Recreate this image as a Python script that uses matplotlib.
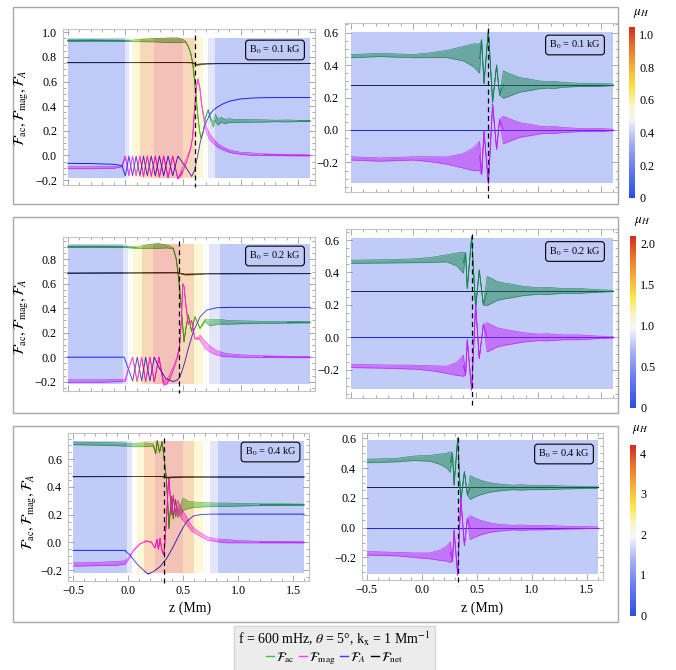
import numpy as np
import matplotlib
matplotlib.use("Agg")
import matplotlib.pyplot as plt
from matplotlib.colors import LinearSegmentedColormap, Normalize
from matplotlib.cm import ScalarMappable
from matplotlib.lines import Line2D
from matplotlib.patches import Rectangle
from matplotlib.ticker import MultipleLocator, FuncFormatter

plt.rcParams["font.family"] = ["Liberation Serif", "DejaVu Serif"]
plt.rcParams["mathtext.fontset"] = "stix"

W, H = 676, 670

# ---------------- mu_H stripes (z edges in Mm, one mu_H per stripe) ----------------
stripe_z1 = [-0.5, 0.0, 0.03, 0.07, 0.13, 0.25, 0.5, 0.6, 0.675, 0.72, 0.775, 1.6]
stripe_z2 = [-0.5, -0.018, 0.025, 0.063, 0.14, 0.24, 0.473, 0.597, 0.675, 0.727, 0.82, 1.6]
stripe_z3 = [-0.5, -0.014, 0.031, 0.077, 0.143, 0.243, 0.495, 0.598, 0.683, 0.744, 0.82, 1.6]
mu1 = [0.07, 0.35, 0.49, 0.63, 0.88, 1.0, 0.88, 0.63, 0.49, 0.35, 0.07]
mu2 = [0.15, 0.7, 0.98, 1.25, 1.75, 2.0, 1.75, 1.25, 0.98, 0.7, 0.15]
mu3 = [0.3, 1.4, 1.97, 2.5, 3.5, 4.0, 3.5, 2.5, 1.97, 1.4, 0.3]
mu_right = [0.07, 0.15, 0.3]
mu_max = [1.047, 2.09, 4.2]
b0_labels = ["0.1", "0.2", "0.4"]
z_cut = [0.6, 0.467, 0.33]

# ---------------- B0 = 0.1 kG, left ----------------
p1_ac_z = [-0.5, -0.3, -0.1, 0.05, 0.15, 0.25, 0.35, 0.45, 0.5, 0.52, 0.545, 0.566, 0.583, 0.597, 0.612,
           0.626, 0.641, 0.655, 0.675, 0.695, 0.718, 0.74, 0.76, 0.78, 0.8, 0.83, 0.86, 0.9, 0.95, 1.0,
           1.1, 1.2, 1.3, 1.4, 1.5, 1.6]
p1_ac_y = [0.932, 0.933, 0.932, 0.930, 0.933, 0.936, 0.935, 0.935, 0.93, 0.925, 0.885, 0.83, 0.75, 0.63, 0.48,
           0.34, 0.21, 0.14, 0.19, 0.31, 0.37, 0.29, 0.25, 0.31, 0.27, 0.29, 0.275, 0.283, 0.28, 0.281,
           0.28, 0.28, 0.28, 0.28, 0.28, 0.28]
p1_ac_w = [0.006, 0.006, 0.005, 0.006, 0.01, 0.014, 0.018, 0.02, 0.012, 0.005, 0.0, 0.0, 0.0, 0.0, 0.0,
           0.0, 0.0, 0.0, 0.0, 0.0, 0.0, 0.01, 0.02, 0.025, 0.025, 0.02, 0.018, 0.015, 0.012, 0.012,
           0.01, 0.009, 0.006, 0.008, 0.005, 0.005]

p1_mag_z = [-0.5, -0.3, -0.1, -0.03,
            0.0, 0.031, 0.062, 0.093, 0.125, 0.157, 0.19, 0.224, 0.259, 0.295, 0.332, 0.37, 0.41, 0.455,
            0.49, 0.52, 0.545, 0.566, 0.583, 0.6, 0.615, 0.63, 0.645, 0.66, 0.68, 0.7, 0.73, 0.76, 0.8,
            0.85, 0.9, 0.95, 1.0, 1.1, 1.2, 1.4, 1.6]
p1_mag_y = [-0.10, -0.10, -0.097, -0.088,
            -0.005, -0.165, -0.005, -0.165, -0.005, -0.17, -0.005, -0.17, -0.005, -0.175, -0.005, -0.18,
            -0.005, -0.19,
            -0.13, -0.06, 0.0, 0.06, 0.15, 0.38, 0.55, 0.62, 0.55, 0.42, 0.3, 0.21, 0.15, 0.12, 0.08,
            0.055, 0.035, 0.025, 0.018, 0.01, 0.006, 0.003, 0.0]
p1_mag_w = [0.008, 0.008, 0.008, 0.004,
            0.0, 0.0, 0.0, 0.0, 0.0, 0.0, 0.0, 0.0, 0.0, 0.0, 0.0, 0.0, 0.0, 0.0,
            0.02, 0.02, 0.01, 0.0, 0.0, 0.0, 0.0, 0.0, 0.0, 0.0, 0.02, 0.025, 0.025, 0.02, 0.015,
            0.012, 0.01, 0.01, 0.008, 0.01, 0.006, 0.006, 0.004]

p1_alf_z = [-0.5, -0.3, -0.1, -0.03,
            0.0, 0.031, 0.062, 0.093, 0.125, 0.157, 0.19, 0.224, 0.259, 0.295, 0.332, 0.37, 0.41, 0.455,
            0.52, 0.574, 0.6, 0.618, 0.635, 0.647, 0.69, 0.73, 0.762, 0.8, 0.849, 0.9, 0.993, 1.1, 1.2,
            1.4, 1.6]
p1_alf_y = [-0.064, -0.066, -0.072, -0.082,
            -0.165, -0.005, -0.165, -0.005, -0.165, -0.005, -0.165, -0.005, -0.165, -0.005, -0.165, -0.005,
            -0.165, -0.005,
            -0.09, -0.17, -0.12, -0.04, 0.04, 0.1, 0.25, 0.33, 0.368, 0.395, 0.42, 0.44, 0.458, 0.466, 0.469,
            0.47, 0.47]

p1_net_z = [-0.5, 0.5, 0.58, 0.6, 0.62, 0.65, 0.7, 0.8, 1.6]
p1_net_y = [0.753, 0.754, 0.752, 0.745, 0.736, 0.74, 0.745, 0.746, 0.746]
p1_net_w = [0.0, 0.0, 0.0, 0.003, 0.004, 0.004, 0.003, 0.001, 0.0]

# ---------------- B0 = 0.2 kG, left ----------------
p2_ac_z = [-0.5, -0.2, 0.0, 0.1, 0.2, 0.28, 0.36, 0.4, 0.415, 0.44, 0.458, 0.473, 0.487, 0.496, 0.508,
           0.525, 0.545, 0.574, 0.603, 0.647, 0.69, 0.73, 0.8, 0.9, 1.0, 1.1, 1.2, 1.3, 1.4, 1.5, 1.6]
p2_ac_y = [0.903, 0.903, 0.902, 0.895, 0.905, 0.91, 0.905, 0.895, 0.889, 0.807, 0.671, 0.535, 0.372, 0.263,
           0.125, 0.24, 0.345, 0.21, 0.33, 0.236, 0.30, 0.28, 0.29, 0.285, 0.285, 0.285, 0.285, 0.285,
           0.285, 0.285, 0.285]
p2_ac_w = [0.006, 0.006, 0.006, 0.006, 0.015, 0.02, 0.012, 0.008, 0.003, 0.0, 0.0, 0.0, 0.0, 0.0, 0.0,
           0.0, 0.0, 0.0, 0.0, 0.0, 0.01, 0.025, 0.02, 0.015, 0.012, 0.01, 0.008, 0.008, 0.006, 0.005, 0.004]

p2_mag_z = [-0.5, -0.2, 0.0, 0.025, 0.063, 0.102, 0.141, 0.176, 0.213, 0.25, 0.291, 0.33, 0.36, 0.39,
            0.42, 0.45, 0.47, 0.485, 0.497, 0.508, 0.525, 0.545, 0.574, 0.603, 0.647, 0.69, 0.73, 0.78,
            0.85, 0.9, 1.0, 1.1, 1.2, 1.3, 1.4, 1.5, 1.6]
p2_mag_y = [-0.195, -0.195, -0.19, -0.1, 0.0, -0.2, 0.0, -0.2, 0.0, -0.2, 0.0, -0.21, -0.2, -0.15,
            -0.08, 0.0, 0.09, 0.3, 0.6, 0.58, 0.42, 0.27, 0.3, 0.15, 0.16, 0.1, 0.07, 0.04,
            0.02, 0.015, 0.01, 0.006, 0.004, 0.003, 0.002, 0.001, 0.0]
p2_mag_w = [0.01, 0.01, 0.008, 0.0, 0.0, 0.0, 0.0, 0.0, 0.0, 0.0, 0.0, 0.02, 0.02, 0.018,
            0.012, 0.008, 0.0, 0.0, 0.0, 0.0, 0.0, 0.0, 0.0, 0.0, 0.02, 0.03, 0.025, 0.02,
            0.015, 0.012, 0.01, 0.008, 0.007, 0.006, 0.006, 0.005, 0.004]

p2_alf_z = [-0.5, -0.01, 0.063, 0.103, 0.141, 0.176, 0.213, 0.25, 0.3, 0.35, 0.415, 0.45, 0.473, 0.495,
            0.516, 0.545, 0.589, 0.647, 0.704, 0.79, 0.9, 1.6]
p2_alf_y = [0.0, 0.0, -0.195, 0.0, -0.195, 0.0, -0.195, 0.0, -0.1, -0.175, -0.2, -0.185, -0.16, -0.1,
            -0.036, 0.07, 0.21, 0.33, 0.385, 0.404, 0.407, 0.407]

p2_net_z = [-0.5, 0.45, 0.48, 0.52, 0.6, 0.7, 1.6]
p2_net_y = [0.687, 0.69, 0.683, 0.676, 0.678, 0.683, 0.683]
p2_net_w = [0.0, 0.0, 0.002, 0.004, 0.004, 0.002, 0.0]

# ---------------- B0 = 0.4 kG, left ----------------
p3_ac_z = [-0.5, -0.3, -0.1, 0.05, 0.15, 0.228, 0.25, 0.264, 0.285, 0.309, 0.328, 0.346, 0.36, 0.37, 0.38,
           0.395, 0.41, 0.43, 0.45, 0.5, 0.55, 0.6, 0.7, 0.8, 0.9, 1.0, 1.1, 1.2, 1.4, 1.6]
p3_ac_y = [0.715, 0.712, 0.708, 0.703, 0.705, 0.703, 0.64, 0.735, 0.65, 0.727, 0.6, 0.474, 0.283, 0.10, 0.2,
           0.33, 0.17, 0.31, 0.2, 0.275, 0.27, 0.272, 0.272, 0.272, 0.272, 0.272, 0.272, 0.272, 0.272, 0.272]
p3_ac_w = [0.01, 0.01, 0.01, 0.012, 0.014, 0.01, 0.0, 0.0, 0.0, 0.0, 0.0, 0.0, 0.0, 0.0, 0.0,
           0.0, 0.0, 0.0, 0.02, 0.045, 0.025, 0.02, 0.015, 0.012, 0.012, 0.01, 0.008, 0.006, 0.006, 0.004]

p3_mag_z = [-0.5, -0.3, -0.1, -0.03, 0.0, 0.046, 0.107, 0.167, 0.213, 0.243, 0.262, 0.275, 0.29, 0.305,
            0.322, 0.335, 0.35, 0.362, 0.37, 0.38, 0.395, 0.41, 0.43, 0.45, 0.48, 0.52, 0.577, 0.63,
            0.713, 0.8, 0.9, 1.0, 1.2, 1.4, 1.6]
p3_mag_y = [-0.16, -0.157, -0.152, -0.145, -0.12, -0.06, -0.01, 0.01, 0.0, -0.04, 0.02, -0.05, 0.03, -0.05,
            -0.09, 0.0, 0.2, 0.38, 0.47, 0.36, 0.2, 0.34, 0.2, 0.27, 0.21, 0.17, 0.1, 0.07,
            0.03, 0.015, 0.008, 0.005, 0.002, 0.001, 0.0]
p3_mag_w = [0.012, 0.012, 0.014, 0.012, 0.008, 0.004, 0.002, 0.002, 0.003, 0.0, 0.0, 0.0, 0.0, 0.0,
            0.0, 0.0, 0.0, 0.0, 0.0, 0.0, 0.0, 0.0, 0.02, 0.035, 0.035, 0.03, 0.02, 0.015,
            0.012, 0.01, 0.012, 0.008, 0.006, 0.005, 0.004]

p3_alf_z = [-0.5, -0.03, 0.016, 0.076, 0.137, 0.18, 0.228, 0.289, 0.35, 0.41, 0.47, 0.531, 0.592, 0.653,
            0.75, 1.6]
p3_alf_y = [-0.058, -0.058, -0.092, -0.152, -0.2, -0.229, -0.212, -0.176, -0.116, -0.031, 0.065, 0.15,
            0.19, 0.2, 0.204, 0.204]

p3_net_z = [-0.5, 0.3, 0.33, 0.36, 0.4, 0.5, 1.6]
p3_net_y = [0.474, 0.476, 0.472, 0.468, 0.47, 0.472, 0.472]
p3_net_w = [0.0, 0.0, 0.002, 0.003, 0.003, 0.001, 0.0]

# ---------------- right column (mu_H small everywhere) ----------------
p1r_z = [-0.5, -0.268, 0.0, 0.132, 0.266, 0.4, 0.48, 0.53, 0.546, 0.565, 0.6, 0.634, 0.666, 0.69, 0.72,
         0.75, 0.8, 0.85, 0.933, 1.0, 1.07, 1.13, 1.2, 1.33, 1.47, 1.6]
p1r_ac = [0.455, 0.462, 0.455, 0.46, 0.468, 0.47, 0.46, 0.44, 0.555, 0.285, 0.615, 0.17, 0.40, 0.215, 0.28,
          0.278, 0.278, 0.278, 0.278, 0.278, 0.278, 0.278, 0.278, 0.278, 0.278, 0.278]
p1r_mag = [-0.175, -0.182, -0.175, -0.18, -0.188, -0.19, -0.18, -0.16, -0.275, -0.005, -0.333, 0.16, -0.12,
           0.065, 0.0, 0.0, 0.0, 0.0, 0.0, 0.0, 0.0, 0.0, 0.0, 0.0, 0.0, 0.0]
p1r_w = [0.01, 0.01, 0.01, 0.015, 0.022, 0.045, 0.07, 0.09, 0.0, 0.0, 0.0, 0.0, 0.0, 0.0, 0.085,
         0.075, 0.06, 0.045, 0.035, 0.025, 0.02, 0.022, 0.015, 0.01, 0.01, 0.005]
p1r_net = 0.277

p2r_z = [-0.5, -0.25, 0.0, 0.132, 0.266, 0.346, 0.4, 0.418, 0.431, 0.466, 0.498, 0.527, 0.56, 0.59, 0.63,
         0.666, 0.72, 0.8, 0.87, 0.933, 1.0, 1.07, 1.2, 1.33, 1.47, 1.6]
p2r_ac = [0.466, 0.468, 0.472, 0.477, 0.487, 0.48, 0.46, 0.52, 0.30, 0.62, 0.18, 0.415, 0.2, 0.286, 0.286,
          0.286, 0.286, 0.286, 0.286, 0.286, 0.286, 0.286, 0.286, 0.286, 0.286, 0.286]
p2r_mag = [-0.177, -0.18, -0.184, -0.19, -0.2, -0.195, -0.175, -0.23, -0.015, -0.325, 0.2, -0.13, 0.08,
           0.0, 0.0, 0.0, 0.0, 0.0, 0.0, 0.0, 0.0, 0.0, 0.0, 0.0, 0.0, 0.0]
p2r_w = [0.01, 0.01, 0.012, 0.015, 0.022, 0.04, 0.065, 0.0, 0.0, 0.0, 0.0, 0.0, 0.0, 0.09, 0.075,
         0.06, 0.05, 0.04, 0.03, 0.025, 0.02, 0.022, 0.015, 0.015, 0.008, 0.004]
p2r_net = 0.286

p3r_z = [-0.5, -0.227, -0.076, 0.076, 0.167, 0.227, 0.26, 0.28, 0.294, 0.327, 0.355, 0.388, 0.415, 0.44,
         0.48, 0.53, 0.6, 0.68, 0.75, 0.83, 0.9, 0.985, 1.1, 1.29, 1.45, 1.6]
p3r_ac = [0.448, 0.454, 0.466, 0.466, 0.46, 0.45, 0.44, 0.5, 0.286, 0.60, 0.174, 0.376, 0.219, 0.27,
          0.27, 0.27, 0.27, 0.27, 0.27, 0.27, 0.27, 0.27, 0.27, 0.27, 0.27, 0.27]
p3r_mag = [-0.173, -0.178, -0.185, -0.19, -0.185, -0.175, -0.165, -0.225, -0.015, -0.32, 0.2, -0.12, 0.06,
           0.0, 0.0, 0.0, 0.0, 0.0, 0.0, 0.0, 0.0, 0.0, 0.0, 0.0, 0.0, 0.0]
p3r_w = [0.012, 0.012, 0.015, 0.02, 0.035, 0.05, 0.07, 0.0, 0.0, 0.0, 0.0, 0.0, 0.0, 0.08,
         0.065, 0.05, 0.035, 0.025, 0.02, 0.015, 0.018, 0.015, 0.015, 0.01, 0.008, 0.005]
p3r_net = 0.27

C_AC, C_MAG, C_ALF, C_NET = (0.0, 0.6, 0.0), (1.0, 0.0, 1.0), (0.0, 0.0, 1.0), (0.0, 0.0, 0.0)

cmap = LinearSegmentedColormap.from_list("muH", [
    (0.00, "#2a4ee8"), (0.18, "#6b7ff0"), (0.33, "#a9b4f3"), (0.46, "#f6f6f8"),
    (0.55, "#fbf3c0"), (0.64, "#fbe64a"), (0.75, "#f5b53a"), (0.87, "#ea7b2a"), (1.00, "#d42a22")])

fig = plt.figure(figsize=(W / 100, H / 100), dpi=100)


def box_axes(left, top, right, bottom):
    return fig.add_axes([left / W, 1 - bottom / H, (right - left) / W, (bottom - top) / H])


def fmt1(v, _):
    s = f"{v:.1f}"
    if s == "-0.0":
        s = "0.0"
    return s.replace("-", "\u2212")


def style(ax, xlim, ylim, xlabels):
    ax.set_xlim(xlim)
    ax.set_ylim(ylim)
    ax.xaxis.set_major_locator(MultipleLocator(0.5))
    ax.xaxis.set_minor_locator(MultipleLocator(0.1))
    ax.yaxis.set_major_locator(MultipleLocator(0.2))
    ax.yaxis.set_minor_locator(MultipleLocator(0.05))
    ax.xaxis.set_major_formatter(FuncFormatter(fmt1))
    ax.yaxis.set_major_formatter(FuncFormatter(fmt1))
    ax.tick_params(which="both", direction="in", top=True, right=True, color="#9a9a9a",
                   width=0.6, labelsize=8.7)
    ax.tick_params(which="major", length=4)
    ax.tick_params(which="minor", length=2)
    ax.tick_params(axis="x", labelbottom=xlabels, pad=3)
    ax.tick_params(axis="y", pad=4.5)
    for s in ax.spines.values():
        s.set_color("#c4c4c4")
        s.set_linewidth(0.8)


def trace(ax, z, y, w, color):
    # fast oscillations are drawn as an envelope band; the mean line is hidden inside it
    z, y = np.asarray(z, float), np.asarray(y, float)
    yc = y.copy()
    if w is not None:
        w = np.asarray(w, float)
        band = w > 0
        inner = band & np.r_[band[0], band[:-1]] & np.r_[band[1:], band[-1]]
        yc[inner & (w > 0.007)] = np.nan
        ax.fill_between(z, y - w, y + w, color=color, lw=0, alpha=0.5, zorder=2)
        ax.plot(z, y - w, color=color, lw=0.4, zorder=2)
        ax.plot(z, y + w, color=color, lw=0.4, zorder=2)
    ax.plot(z, yc, color=color, lw=0.7, zorder=2)


def shade(ax, edges, mu, vmax, ylo, yhi, zd, y_end):
    ax.pcolormesh(edges, [ylo, yhi], [mu], cmap=cmap, norm=Normalize(0, vmax), alpha=0.33,
                  shading="flat", edgecolors="none", antialiased=False, zorder=3)
    ax.plot([zd, zd], [yhi + 0.02, y_end], color="black", lw=0.9, ls=(0, (4, 3)),
            clip_on=False, zorder=4)


# ---- left column
left_geom = [(63.3, 29.3, 315, 185, (-0.538, 1.643), (-0.240, 1.024), (-0.181, 0.956)),
             (62.7, 236.7, 315, 390.7, (-0.543, 1.643), (-0.274, 0.985), (-0.219, 0.927)),
             (68.3, 432.7, 309.3, 580.7, (-0.545, 1.648), (-0.277, 0.792), (-0.224, 0.734))]
left_data = [
    [(p1_ac_z, p1_ac_y, p1_ac_w, C_AC), (p1_mag_z, p1_mag_y, p1_mag_w, C_MAG),
     (p1_alf_z, p1_alf_y, None, C_ALF), (p1_net_z, p1_net_y, p1_net_w, C_NET)],
    [(p2_ac_z, p2_ac_y, p2_ac_w, C_AC), (p2_mag_z, p2_mag_y, p2_mag_w, C_MAG),
     (p2_alf_z, p2_alf_y, None, C_ALF), (p2_net_z, p2_net_y, p2_net_w, C_NET)],
    [(p3_ac_z, p3_ac_y, p3_ac_w, C_AC), (p3_mag_z, p3_mag_y, p3_mag_w, C_MAG),
     (p3_alf_z, p3_alf_y, None, C_ALF), (p3_net_z, p3_net_y, p3_net_w, C_NET)]]
stripes = [(stripe_z1, mu1), (stripe_z2, mu2), (stripe_z3, mu3)]

for i, (l, t, r, b, xl, yl, sh) in enumerate(left_geom):
    ax = box_axes(l, t, r, b)
    for z, y, w, c in left_data[i]:
        trace(ax, z, y, w, c)
    shade(ax, stripes[i][0], stripes[i][1], mu_max[i], sh[0], sh[1], z_cut[i],
          yl[0] - 0.015 * (yl[1] - yl[0]))
    style(ax, xl, yl, i == 2)

# ---- right column
right_geom = [(345, 23.3, 617.5, 191.7, (-0.548, 1.634), (-0.380, 0.657), (-0.328, 0.605)),
              (346, 229.3, 617.5, 398.3, (-0.540, 1.634), (-0.376, 0.666), (-0.321, 0.614)),
              (362.3, 433.3, 602.7, 580, (-0.540, 1.645), (-0.352, 0.634), (-0.312, 0.589))]
right_data = [(p1r_z, p1r_ac, p1r_mag, p1r_w, p1r_net),
              (p2r_z, p2r_ac, p2r_mag, p2r_w, p2r_net),
              (p3r_z, p3r_ac, p3r_mag, p3r_w, p3r_net)]

for i, (l, t, r, b, xl, yl, sh) in enumerate(right_geom):
    ax = box_axes(l, t, r, b)
    z, ac, mag, w, net = right_data[i]
    trace(ax, [-0.5, 1.6], [net, net], None, C_NET)
    trace(ax, [-0.5, 1.6], [0.0, 0.0], None, C_ALF)
    trace(ax, z, ac, w, C_AC)
    trace(ax, z, mag, w, C_MAG)
    shade(ax, [-0.5, 1.6], [mu_right[i]], mu_max[i], sh[0], sh[1], z_cut[i],
          yl[0] - 0.04 * (yl[1] - yl[0]))
    style(ax, xl, yl, i == 2)

# ---- B0 labels
b0_pos = [((275, 50), (575, 45)), ((275, 256), (575, 251.5)), ((270.5, 452), (564, 454))]
for i, pair in enumerate(b0_pos):
    for (cx, cy) in pair:
        fig.text(cx / W, 1 - cy / H, "B$_0$ = %s kG" % b0_labels[i], ha="center", va="center",
                 fontsize=7.4, zorder=6,
                 bbox=dict(boxstyle="round,pad=0.35,rounding_size=0.3", fc="none", ec="black", lw=0.8))

# ---- y labels and x labels
ylab = r"$\mathcal{F}_{\rm ac}, \mathcal{F}_{\rm mag}, \mathcal{F}_A$"
for (x, y) in [(22, 108), (22, 317), (30, 512)]:
    fig.text(x / W, 1 - y / H, ylab, rotation=90, ha="center", va="center", fontsize=10.5)
for x in (190, 482):
    fig.text(x / W, 1 - 608 / H, "z (Mm)", ha="center", va="center", fontsize=10)

# ---- outer frames
for (t, b) in [(7.3, 204), (216.7, 413.3), (425.7, 622)]:
    fig.add_artist(Rectangle((12.7 / W, 1 - b / H), (618.3 - 12.7) / W, (b - t) / H,
                             transform=fig.transFigure, fill=False, ec="#a8a8a8", lw=1.0))

# ---- colour bars
cb_geom = [(629.3, 26.7, 635, 197.7), (630, 236, 636, 407.7), (630, 445, 636, 615.6)]
cb_ticks = [([0, 0.2, 0.4, 0.6, 0.8, 1.0], ["0", "0.2", "0.4", "0.6", "0.8", "1.0"]),
            ([0, 0.5, 1.0, 1.5, 2.0], ["0", "0.5", "1.0", "1.5", "2.0"]),
            ([0, 1, 2, 3, 4], ["0", "1", "2", "3", "4"])]
mu_lab = [(641, 13), (642, 221), (640, 429)]
for i, (l, t, r, b) in enumerate(cb_geom):
    cax = box_axes(l, t, r, b)
    cb = fig.colorbar(ScalarMappable(norm=Normalize(0, mu_max[i]), cmap=cmap), cax=cax)
    cb.outline.set_visible(False)
    cb.set_ticks(cb_ticks[i][0])
    cb.set_ticklabels(cb_ticks[i][1])
    cax.tick_params(length=0, labelsize=8.7, pad=3)
    fig.text(mu_lab[i][0] / W, 1 - mu_lab[i][1] / H, r"$\mu_H$", ha="center", va="center", fontsize=9.5)

# ---- legend
handles = [Line2D([], [], color=c, lw=1.0) for c in ("#3cc43c", "#ff3cff", "#3c3cff", "black")]
labels = [r"$\mathcal{F}_{\rm ac}$", r"$\mathcal{F}_{\rm mag}$", r"$\mathcal{F}_A$", r"$\mathcal{F}_{\rm net}$"]
leg = fig.legend(handles, labels, loc="center", bbox_to_anchor=(334.5 / W, 1 - 648.5 / H), ncol=4,
                 title=r"f = 600 mHz, $\theta$ = 5°, k$_{\rm x}$ = 1 Mm$^{-1}$",
                 fontsize=9.5, title_fontsize=10, handlelength=0.6, handletextpad=0.15,
                 columnspacing=0.35, borderpad=0.3, labelspacing=0.1, frameon=True, fancybox=False,
                 facecolor="#ececec", edgecolor="#d6d6d6", framealpha=1)
leg._legend_box.sep = 1

fig.savefig("out.png", dpi=100)
